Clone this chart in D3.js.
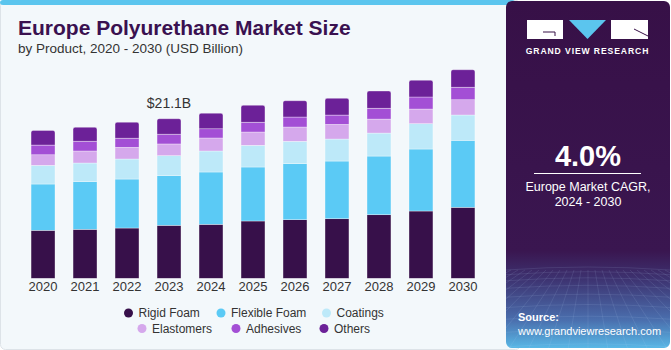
<!DOCTYPE html>
<html>
<head>
<meta charset="utf-8">
<script src="https://cdn.jsdelivr.net/npm/d3@7"></script>
<style>
  html, body { margin: 0; padding: 0; background: #ffffff; }
  svg { display: block; font-family: "Liberation Sans", Arial, Helvetica, sans-serif; }
</style>
</head>
<body>
<svg id="chart" width="671" height="350"></svg>
<script>
// ---- Data (USD Billion) ----
const years = ["2020","2021","2022","2023","2024","2025","2026","2027","2028","2029","2030"];
const seriesNames = ["Rigid Foam","Flexible Foam","Coatings","Elastomers","Adhesives","Others"];
const rigidFoam    = [6.35, 6.48, 6.65, 7.01, 7.14, 7.58, 7.75, 7.88, 8.41, 8.90, 9.39];
const flexibleFoam = [6.12, 6.30, 6.48, 6.56, 6.92, 7.14, 7.41, 7.63, 7.76, 8.20, 8.86];
const coatings     = [2.47, 2.47, 2.65, 2.65, 2.78, 2.87, 2.96, 2.91, 3.04, 3.35, 3.35];
const elastomers   = [1.40, 1.59, 1.55, 1.55, 1.72, 1.76, 1.89, 1.94, 1.85, 1.94, 2.02];
const adhesives    = [1.28, 1.28, 1.19, 1.28, 1.23, 1.28, 1.32, 1.23, 1.42, 1.59, 1.64];
const others       = [1.94, 1.85, 2.12, 2.06, 2.04, 2.25, 2.16, 2.21, 2.29, 2.21, 2.33];
const colors = ["#37104a", "#5bcaf5", "#bde9f9", "#d5a8ec", "#a34fd5", "#6c2198"];
const annotationYear = "2023";
const annotationText = "$21.1B";

const seriesValues = [rigidFoam, flexibleFoam, coatings, elastomers, adhesives, others];
const table = years.map((y, i) => {
  const row = { year: y };
  seriesNames.forEach((s, j) => row[s] = seriesValues[j][i]);
  return row;
});

const svg = d3.select("#chart");
const W = 671, H = 350;

// ---- Card background ----
svg.append("rect").attr("x", 0.5).attr("y", 0.5).attr("width", 520).attr("height", H - 1)
  .attr("rx", 5).attr("fill", "#f3f8fb").attr("stroke", "#dde3e8").attr("stroke-width", 1);
svg.append("rect").attr("x", 0).attr("y", 0).attr("width", 515).attr("height", 5).attr("fill", "#5bc5ee")
  .attr("rx", 3);

// ---- Titles ----
svg.append("text").attr("x", 18).attr("y", 35).attr("font-size", 21).attr("font-weight", "bold")
  .attr("fill", "#3a1150").text("Europe Polyurethane Market Size");
svg.append("text").attr("x", 18).attr("y", 53).attr("font-size", 13.5).attr("fill", "#333")
  .text("by Product, 2020 - 2030 (USD Billion)");

// ---- Scales ----
const x = d3.scaleBand().domain(years).range([13, 493]).paddingInner(0.43).paddingOuter(0.43);
const y = d3.scaleLinear().domain([0, 25]).range([278.3, 89.3]);

const stack = d3.stack().keys(seriesNames);
const stacked = stack(table);

const g = svg.append("g");
stacked.forEach((layer, li) => {
  const isTop = li === stacked.length - 1;
  const grp = g.append("g").attr("fill", colors[li]);
  if (!isTop) {
    grp.selectAll("rect").data(layer).join("rect")
      .attr("x", d => x(d.data.year))
      .attr("y", d => y(d[1]))
      .attr("width", x.bandwidth())
      .attr("height", d => y(d[0]) - y(d[1]))
      .attr("stroke", "rgba(255,255,255,0.55)").attr("stroke-width", 0.6);
  } else {
    grp.selectAll("path").data(layer).join("path")
      .attr("d", d => {
        const x0 = x(d.data.year), x1 = x0 + x.bandwidth();
        const yt = y(d[1]), yb = y(d[0]), r = 2;
        return `M${x0},${yb} L${x0},${yt + r} Q${x0},${yt} ${x0 + r},${yt} L${x1 - r},${yt} Q${x1},${yt} ${x1},${yt + r} L${x1},${yb} Z`;
      })
      .attr("stroke", "rgba(255,255,255,0.55)").attr("stroke-width", 0.6);
  }
});

// ---- X axis ----
const xAxis = d3.axisBottom(x).tickSize(0).tickPadding(0);
const ax = svg.append("g").attr("transform", "translate(0,282)").call(xAxis);
ax.select(".domain").remove();
ax.selectAll("text").attr("font-size", 13).attr("fill", "#333").attr("dy", "0.71em")
  .attr("font-family", "Liberation Sans, Arial, sans-serif");

// ---- Annotation ----
const annTotal = d3.sum(seriesValues, s => s[years.indexOf(annotationYear)]);
svg.append("text").attr("x", x(annotationYear) + x.bandwidth() / 2).attr("y", y(annTotal) - 11)
  .attr("text-anchor", "middle").attr("font-size", 14).attr("fill", "#333").text(annotationText);

// ---- Legend ----
const legendPos = [
  { cx: 128.5, cy: 313 }, { cx: 221, cy: 313 }, { cx: 326.5, cy: 313 },
  { cx: 142, cy: 328.5 }, { cx: 236, cy: 328.5 }, { cx: 324, cy: 328.5 }
];
const lg = svg.append("g");
seriesNames.forEach((s, i) => {
  lg.append("circle").attr("cx", legendPos[i].cx).attr("cy", legendPos[i].cy).attr("r", 4.5).attr("fill", colors[i]);
  lg.append("text").attr("x", legendPos[i].cx + 10).attr("y", legendPos[i].cy + 4.3)
    .attr("font-size", 12).attr("fill", "#333").text(s);
});

// ---- Right panel ----
const defs = svg.append("defs");
const grad = defs.append("linearGradient").attr("id", "pgrad").attr("x1", 0).attr("y1", 0).attr("x2", 0).attr("y2", 1);
grad.append("stop").attr("offset", "0%").attr("stop-color", "#371047");
grad.append("stop").attr("offset", "72%").attr("stop-color", "#3a1650");
grad.append("stop").attr("offset", "80%").attr("stop-color", "#3d3270");
grad.append("stop").attr("offset", "92%").attr("stop-color", "#4a6fae");
grad.append("stop").attr("offset", "100%").attr("stop-color", "#58b8e6");
defs.append("clipPath").attr("id", "pclip").append("rect")
  .attr("x", 506).attr("y", 1).attr("width", 164).attr("height", 347).attr("rx", 6);

const panel = svg.append("g").attr("clip-path", "url(#pclip)");
panel.append("rect").attr("x", 506).attr("y", 1).attr("width", 164).attr("height", 347).attr("fill", "url(#pgrad)");
// mesh lines at bottom
const mesh = panel.append("g").attr("stroke", "rgba(190,215,245,0.2)").attr("stroke-width", 0.6).attr("fill", "none");
d3.range(0, 12).forEach(i => {
  const yy = 270 + i * i * 0.7 + i * 4;
  mesh.append("path").attr("d", `M506,${yy} Q588,${yy - 6} 670,${yy}`);
});
d3.range(-12, 13).forEach(i => {
  mesh.append("line").attr("x1", 588 + i * 7).attr("y1", 270).attr("x2", 588 + i * 20).attr("y2", 350);
});

// logo
const logo = svg.append("g");
logo.append("rect").attr("x", 527).attr("y", 20).attr("width", 36).attr("height", 19).attr("fill", "#fff");
logo.append("path").attr("d", "M569,20 L606,20 L587.5,39 Z").attr("fill", "#5bc5ee");
logo.append("rect").attr("x", 611).attr("y", 20).attr("width", 37).attr("height", 19).attr("fill", "#fff");
logo.append("path").attr("d", "M543,32 L555,32 L555,36").attr("stroke", "#371047").attr("stroke-width", 1).attr("fill", "none");
logo.append("path").attr("d", "M634,29 L648,36").attr("stroke", "#371047").attr("stroke-width", 1);
svg.append("text").attr("x", 587.5).attr("y", 54).attr("text-anchor", "middle").attr("font-size", 8.6)
  .attr("font-weight", "bold").attr("fill", "#fff").attr("letter-spacing", 0.9).text("GRAND VIEW RESEARCH");

svg.append("text").attr("x", 588).attr("y", 166).attr("text-anchor", "middle").attr("font-size", 29)
  .attr("font-weight", "bold").attr("fill", "#fff").text("4.0%");
svg.append("line").attr("x1", 534).attr("x2", 641).attr("y1", 173.5).attr("y2", 173.5)
  .attr("stroke", "#fff").attr("stroke-width", 1);
svg.append("text").attr("x", 588).attr("y", 191).attr("text-anchor", "middle").attr("font-size", 12.5)
  .attr("fill", "#fff").text("Europe Market CAGR,");
svg.append("text").attr("x", 588).attr("y", 206).attr("text-anchor", "middle").attr("font-size", 12.5)
  .attr("fill", "#fff").text("2024 - 2030");

svg.append("text").attr("x", 518).attr("y", 321).attr("font-size", 11).attr("font-weight", "bold")
  .attr("fill", "#fff").text("Source:");
svg.append("text").attr("x", 518).attr("y", 334.5).attr("font-size", 11)
  .attr("fill", "#fff").text("www.grandviewresearch.com");
</script>
</body>
</html>
